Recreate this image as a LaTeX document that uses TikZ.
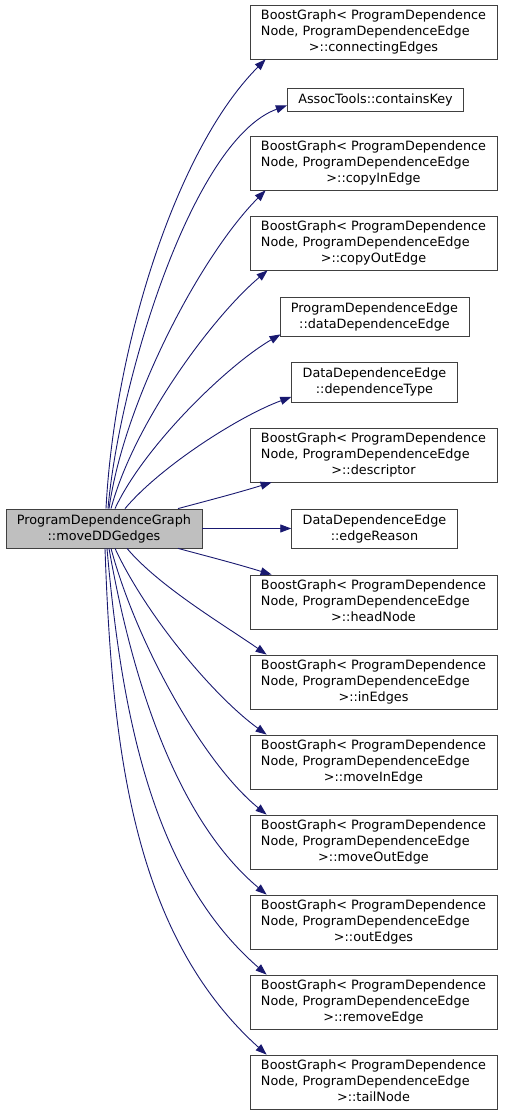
\documentclass[tikz,border=0pt]{standalone}
\usepackage{fontspec}
\setmainfont{DejaVu Sans}
\definecolor{PDGnavy}{HTML}{191970}
\definecolor{PDGgray}{HTML}{BFBFBF}
\definecolor{PDGline}{HTML}{404040}
\usetikzlibrary{arrows.meta}
\newcommand{\bgtext}[1]{\begin{tabular}{@{}l@{}}BoostGraph< ProgramDependence\\Node, ProgramDependenceEdge\\\multicolumn{1}{@{}c@{}}{>::#1}\end{tabular}}

\begin{document}
\begin{tikzpicture}[x=1pt, y=1pt, font=\fontsize{12.8}{16}\selectfont,
    fn/.style={draw=PDGline, line width=0.8pt, fill=white, align=center,
      minimum height=39pt, inner xsep=11pt, inner ysep=0pt},
    bgfn/.style={fn, minimum width=247pt, minimum height=54pt, inner sep=0pt},
    mainfn/.style={fn, fill=PDGgray},
    call/.style={-{Triangle[length=11pt, width=8pt]}, PDGnavy, line width=0.9pt}]
  \useasboundingbox (0,0) rectangle (505,1116);

  \node[mainfn] (main) at (104,587.5) {ProgramDependenceGraph\\::moveDDGedges};

  \node[bgfn] (connEdges) at (373.5,1084) {\bgtext{connectingEdges}};
  \node[fn, minimum height=23pt] (containsKey) at (375.5,1016.5) {AssocTools::containsKey};
  \node[bgfn] (copyIn) at (373.5,953) {\bgtext{copyInEdge}};
  \node[bgfn] (copyOut) at (373.5,873) {\bgtext{copyOutEdge}};
  \node[fn] (dataDep) at (374.5,799.5) {ProgramDependenceEdge\\::dataDependenceEdge};
  \node[fn, minimum height=40pt] (depType) at (374.5,734) {DataDependenceEdge\\::dependenceType};
  \node[bgfn] (descriptor) at (373.5,661) {\bgtext{descriptor}};
  \node[fn] (edgeReason) at (374.5,587.5) {DataDependenceEdge\\::edgeReason};
  \node[bgfn] (headNode) at (373.5,514) {\bgtext{headNode}};
  \foreach \name [count=\k] in {inEdges, moveInEdge, moveOutEdge, outEdges, removeEdge, tailNode}
    \node[bgfn] (\name) at (373.5,514-80*\k) {\bgtext{\name}};

  % calls above the caller
  \draw[call] ([xshift=2pt]main.north) to[out=87, in=225, out distance=165pt, in distance=125pt] ([xshift=16pt]connEdges.south west);
  \draw[call] ([xshift=4pt]main.north) to[out=85, in=200, out distance=130pt, in distance=100pt] ([yshift=-6pt]containsKey.west);
  \draw[call] ([xshift=5pt]main.north) to[out=82, in=225, out distance=110pt, in distance=90pt] ([xshift=16pt]copyIn.south west);
  \draw[call] ([xshift=7pt]main.north) to[out=75, in=220, out distance=90pt, in distance=70pt] ([xshift=18pt]copyOut.south west);
  \draw[call] ([xshift=11pt]main.north) to[out=65, in=210, out distance=70pt, in distance=60pt] ([xshift=1pt, yshift=2pt]dataDep.south west);
  \draw[call] ([xshift=21pt]main.north) to[out=50, in=200, out distance=55pt, in distance=55pt] ([yshift=-15pt]depType.west);
  \draw[call] ([xshift=74pt]main.north) to[out=15, in=197] ([xshift=22pt]descriptor.south west);
  \draw[call] (main.east) -- (edgeReason.west);
  % calls below the caller
  \draw[call] ([xshift=74pt]main.south) to[out=-15, in=163] ([xshift=22pt]headNode.north west);
  \foreach \name/\dx/\o/\a/\e/\b in {inEdges/23/-50/50/145/50, moveInEdge/11/-65/75/144/65,
      moveOutEdge/7/-75/100/141/80, outEdges/5/-80/140/140/115,
      removeEdge/3/-85/170/139/150, tailNode/1/-88/200/138/180}
    \draw[call] ([xshift=\dx pt]main.south) to[out=\o, in=\e, out distance=\a pt, in distance=\b pt] ([xshift=17pt]\name.north west);
\end{tikzpicture}
\end{document}
